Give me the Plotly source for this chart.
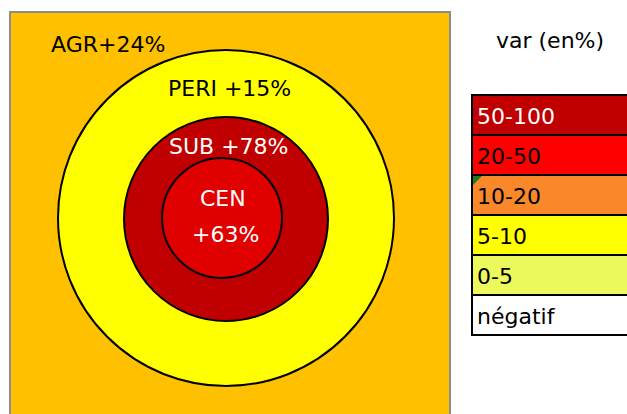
import plotly.graph_objects as go

# ---- data ----
zones = ["AGR", "PERI", "SUB", "CEN"]
zone_values = [24, 15, 78, 63]
zone_colors = ["#FFC000", "#FFFF00", "#C00000", "#E00000"]

classes = ["50-100", "20-50", "10-20", "5-10", "0-5", "négatif"]
class_colors = ["#C00000", "#FF0000", "#F9882A", "#FFFF00", "#EBF95C", "#FFFFFF"]
class_text_colors = ["white", "black", "black", "black", "black", "black"]
legend_title = "var (en%)"

W, H = 627, 414
FONT = "DejaVu Sans"

fig = go.Figure()
fig.add_trace(go.Scatter(x=[0, W], y=[0, H], mode="markers",
                         marker=dict(opacity=0), hoverinfo="skip", showlegend=False))

shapes = []
# background square (AGR)
shapes.append(dict(type="rect", x0=10, y0=12, x1=450, y1=430,
                   fillcolor=zone_colors[0], line=dict(color="#8c8c8c", width=2), layer="below"))
# circles (PERI, SUB, CEN)
cx, cy = 226, 218
radii = [168, 102, 60]
centers = [(226, 218), (226, 219), (222, 218)]
for i, r in enumerate(radii):
    cx, cy = centers[i]
    shapes.append(dict(type="circle", x0=cx - r, x1=cx + r, y0=cy - r, y1=cy + r,
                       fillcolor=zone_colors[i + 1], line=dict(color="black", width=2)))

# legend boxes
lx0, lx1, ly0, rh = 472, 640, 95, 40
for i, (c, col) in enumerate(zip(classes, class_colors)):
    shapes.append(dict(type="rect", x0=lx0, x1=lx1, y0=ly0 + i * rh, y1=ly0 + (i + 1) * rh,
                       fillcolor=col, line=dict(color="black", width=2)))
# small green marker in 10-20 cell corner
shapes.append(dict(type="path", path=f"M {lx0+1} {ly0+2*rh+1} L {lx0+10} {ly0+2*rh+1} L {lx0+1} {ly0+2*rh+10} Z",
                   fillcolor="#1E7B1E", line=dict(width=0)))

annotations = []
def lab(x, y, text, color, size=22, xanchor="center"):
    annotations.append(dict(x=x, y=y, text=text, showarrow=False, xanchor=xanchor, yanchor="middle",
                            font=dict(family=FONT, size=size, color=color)))

lab(108, 44, f"{zones[0]}+{zone_values[0]}%", "black")
lab(229, 88, f"{zones[1]} +{zone_values[1]}%", "black")
lab(229, 146, f"{zones[2]} +{zone_values[2]}%", "white")
lab(223, 198, zones[3], "white")
lab(225, 234, f"+{zone_values[3]}%", "white")

lab(550, 40, legend_title, "black")
for i, (c, tc) in enumerate(zip(classes, class_text_colors)):
    lab(475, ly0 + i * rh + rh / 2 + 1, c, tc, xanchor="left")

fig.update_layout(
    width=W, height=H, margin=dict(l=0, r=0, t=0, b=0),
    paper_bgcolor="white", plot_bgcolor="white",
    xaxis=dict(range=[0, W], visible=False, fixedrange=True),
    yaxis=dict(range=[H, 0], visible=False, fixedrange=True),
    shapes=shapes, annotations=annotations, showlegend=False,
)
fig.write_html("out.html", config=dict(displayModeBar=False),
               post_script="document.body.style.margin='0px';document.body.style.overflow='hidden';")
